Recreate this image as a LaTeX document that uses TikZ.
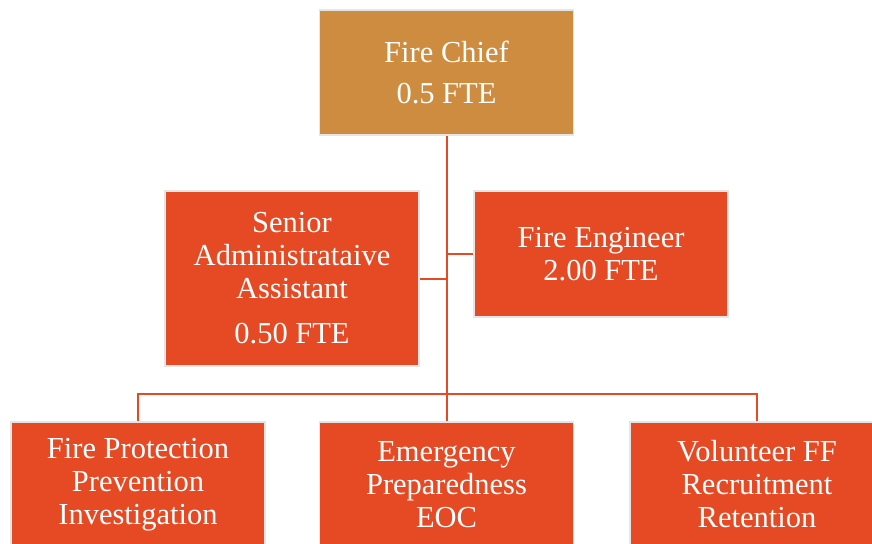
\documentclass[tikz,border=0pt]{standalone}
\usepackage{fontspec}
\setmainfont{Liberation Serif}
\usetikzlibrary{positioning}

\definecolor{chiefbrown}{HTML}{CE8C40}
\definecolor{unitred}{HTML}{E54A24}

\begin{document}
\begin{tikzpicture}[
        yscale=-1,
        x=1pt,
        y=1pt,
        box/.style={draw=black!10, line width=1.5pt, fill=unitred, text=white,
            align=center, inner sep=0pt, minimum width=254pt,
            font=\fontsize{30.5}{33}\selectfont},
        chiefbox/.style={box, fill=chiefbrown},
        link/.style={draw=unitred, line width=2pt}
    ]
    \useasboundingbox (0,0) rectangle (872,543);

    \node[chiefbox, minimum height=125pt] (chief) at (446.5,72.5) {Fire Chief\\[8pt]0.5 FTE};
    \node[box, minimum height=175pt] (admin) at (292,278.5) {Senior\\Administrataive\\Assistant\\[12pt]0.50 FTE};
    \node[box, minimum height=126pt] (eng) at (601,254) {Fire Engineer\\2.00 FTE};
    \node[box, minimum height=125pt] (fpp) at (138,484.5) {Fire Protection\\Prevention\\Investigation};
    \node[box, minimum height=125pt] (epe) at (446.5,484.5) {Emergency\\Preparedness\\EOC};
    \node[box, minimum height=125pt] (vol) at (757,484.5) {Volunteer FF\\Recruitment\\Retention};

    \coordinate (bus) at (446.5,394);

    \draw[link] (chief.south) -- (bus);
    \draw[link] (admin.east) -- (admin.east -| chief.south);
    \draw[link] (eng.west) -- (eng.west -| chief.south);
    \draw[link] (bus) -| (fpp.north);
    \draw[link] (bus) -| (vol.north);
    \draw[link] (bus) -- (epe.north);
\end{tikzpicture}
\end{document}
